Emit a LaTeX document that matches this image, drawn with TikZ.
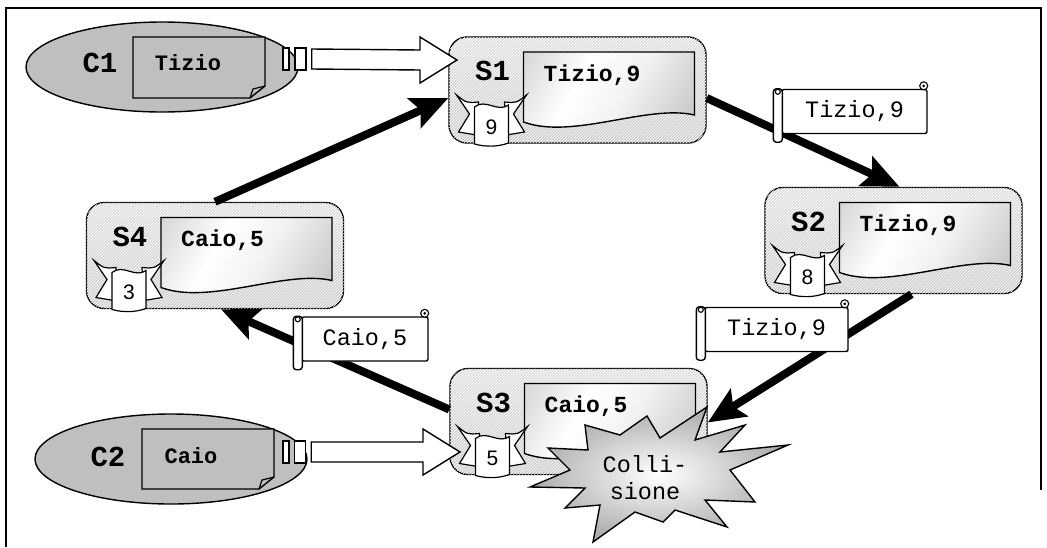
\documentclass[tikz,border=0pt]{standalone}
\usepackage{fontspec}
\usepackage{tikz}
\usetikzlibrary{shapes,arrows.meta,positioning,calc,patterns}
\newfontfamily\monof{Liberation Mono}
\newfontfamily\sansf{Liberation Sans}

% grey - white - grey fade for the stored records
\pgfdeclarehorizontalshading{recfade}{100bp}{color(0bp)=(gray!55); color(38bp)=(white); color(55bp)=(gray!10); color(100bp)=(gray!70)}

\tikzset{
  srv/.style={draw, line width=1.4pt, rounded corners=18pt, minimum width=257pt, minimum height=106pt, inner sep=0pt,
    top color=gray!25, bottom color=gray!40, postaction={pattern=north east lines, pattern color=white}},
  client/.style={ellipse, draw, line width=1.4pt, fill=gray!50, minimum width=272pt, minimum height=90pt, inner sep=0pt},
  recshade/.style={draw, line width=1.4pt, shading=recfade, shading angle=-30},
  cdoc/.style={draw, line width=1.4pt, fill=gray!50},
  sname/.style={inner sep=0pt, font=\monof\bfseries\fontsize{29}{30}\selectfont},
  rec/.style={inner sep=0pt, anchor=west, font=\monof\bfseries\fontsize{23}{25}\selectfont},
  crec/.style={inner sep=0pt, font=\monof\bfseries\fontsize{22}{24}\selectfont},
  count/.style={inner sep=0pt, font=\sansf\fontsize{21}{22}\selectfont},
  note/.style={draw, fill=white, line width=1.4pt, rounded corners=2pt, minimum height=44pt, inner sep=0pt,
    font=\monof\fontsize{23.5}{25}\selectfont},
  plug/.style={draw, fill=white, line width=1.4pt, minimum height=22pt, inner sep=0pt},
  feed/.style={draw, fill=white, line width=1.4pt, line join=miter},
  flow/.style={line width=8pt, -{Stealth[length=37pt, width=32pt, inset=7pt]}},
  bang/.style={draw, line width=1.4pt, line join=miter, inner color=white, outer color=gray!65},
  bangtext/.style={inner sep=0pt, align=center, font=\monof\fontsize{23.5}{27}\selectfont},
  frame/.style={line width=2.2pt}
}

% ribbon with the hop counter
\newcommand{\cntbadge}[3]{%
  \begin{scope}[shift={#2}]
    \draw[fill=white, line width=1.2pt] (-35,-32) .. controls (-25,-24) .. (-13,-25) -- (-15,8) -- (-33,5) -- (-22,-13) -- cycle;
    \draw[fill=white, line width=1.2pt] (35,-32) .. controls (25,-24) .. (13,-25) -- (15,8) -- (33,5) -- (22,-13) -- cycle;
    \draw[fill=white, line width=1.2pt] (-17,-20) .. controls (-6,-29) and (6,-14) .. (17,-22) -- (17,16)
      .. controls (6,20) and (-6,20) .. (-17,17) -- cycle;
    \node[count] (#1) at (0,0) {#3};
  \end{scope}}

% stored record with a wavy lower edge
\newcommand{\wavedoc}[1]{%
  \shade[recshade] ($(#1)+(-54,-38)$) -- ($(#1)+(117,-38)$) -- ($(#1)+(117,25)$)
    .. controls ($(#1)+(70,14)$) and ($(#1)+(-5,50)$) .. ($(#1)+(-54,32)$) -- cycle;}

% server: box, name, record, counter
\newcommand{\srvbox}[4]{%
  \node[srv] (#1) at #2 {};
  \wavedoc{#1}
  \node[sname] (#1-tag) at ($(#1)+(-85,-19)$) {#1};
  \node[rec] (#1-rec) at ($(#1)+(-34,-15)$) {#3};
  \cntbadge{#1-cnt}{($(#1)+(-86,37)$)}{#4}}

% message travelling on the ring
\newcommand{\scrollnote}[4]{%
  \node[note, minimum width=#3] (#1) at #2 {#4};
  \draw[fill=white, line width=1.4pt, rounded corners=3pt] ($(#1.north west)+(-8,0)$) rectangle ($(#1.south west)+(1,8)$);
  \draw[fill=white, line width=1.1pt] ($(#1.north west)+(-3.5,3)$) circle (2.5pt);
  \draw[fill=white, line width=1.1pt] ($(#1.north east)+(-4,-3)$) circle (4pt);
  \fill ($(#1.north east)+(-4,-3)$) circle (1.5pt);}

% hollow arrow from a client plug
\newcommand{\feedarrow}[2]{%
  \draw[feed] ($(#1)+(5,-10)$) -- ($(#2)+(-37,-10)$) -- ($(#2)+(-37,-23)$) -- (#2)
    -- ($(#2)+(-37,23)$) -- ($(#2)+(-37,10)$) -- ($(#1)+(5,10)$) -- cycle;}

\begin{document}
\begin{tikzpicture}[x=1pt, y=-1pt]
  \useasboundingbox (0,0) rectangle (1047,547);
  \draw[frame] (6,547) -- (6,8) -- (1041,8) -- (1041,490);

  % clients
  \node[client] (C1) at (162,67) {};
  \draw[cdoc] (133,37) -- (265,37) -- (265,86) -- (250,98) -- (133,98) -- cycle;
  \draw[line width=1.2pt] (250,98) -- (253,89) -- (265,86);
  \node[sname] (C1-tag) at (100,63) {C1};
  \node[crec] (C1-rec) at (188,63) {Tizio};
  \node[plug, minimum width=6pt] (C1-p1) at (286,59) {};
  \node[plug, minimum width=11pt] (C1-p2) at (300.5,59) {};

  \node[client] (C2) at (171,459) {};
  \draw[cdoc] (142,429) -- (274,429) -- (274,477) -- (259,489) -- (142,489) -- cycle;
  \draw[line width=1.2pt] (259,489) -- (262,480) -- (274,477);
  \node[sname] (C2-tag) at (108,457) {C2};
  \node[crec] (C2-rec) at (191,456) {Caio};
  \node[plug, minimum width=6pt] (C2-p1) at (286,452) {};
  \node[plug, minimum width=11pt] (C2-p2) at (300,452) {};

  % servers on the ring
  \srvbox{S1}{(577.5,90)}{Tizio,9}{9}
  \srvbox{S2}{(893.5,240.5)}{Tizio,9}{8}
  \srvbox{S4}{(215,255.5)}{Caio,5}{3}
  \srvbox{S3}{(578.5,421.5)}{Caio,5}{5}

  % collision burst
  \shade[bang] (788,445) -- (730,470) -- (755,502) -- (705,500) -- (727,527) -- (675,510) -- (663,522)
    -- (635,512) -- (593,542) -- (600,505) -- (565,508) -- (585,488) -- (530,487) -- (570,470)
    -- (548,448) -- (588,450) -- (585,425) -- (620,435) -- (647,416) -- (660,438) -- (707,407)
    -- (695,440) -- (745,425) -- (720,452) -- cycle;
  \node[bangtext] (hit) at (645,478) {Colli-\\sione};

  % ring links
  \draw[flow] (S4.north) -- ($(S1.west)+(0,8)$);
  \draw[flow] ($(S1.east)+(0,8)$) -- ($(S2.north)+(6,0)$);
  \draw[flow] ($(S2.south)+(18,0)$) -- ($(S3.east)+(0,1)$);
  \draw[flow] ($(S3.west)+(0,-12)$) -- ($(S4.south)+(6,0)$);

  % messages in transit
  \scrollnote{m1}{(854.5,111.5)}{145pt}{Tizio,9}
  \scrollnote{m2}{(776.5,329.5)}{143pt}{Tizio,9}
  \scrollnote{m3}{(365,339)}{126pt}{Caio,5}

  % requests from the clients
  \coordinate (in1) at (457,60);
  \coordinate (in3) at (460,452);
  \feedarrow{C1-p2.east}{in1}
  \feedarrow{C2-p2.east}{in3}
\end{tikzpicture}
\end{document}
